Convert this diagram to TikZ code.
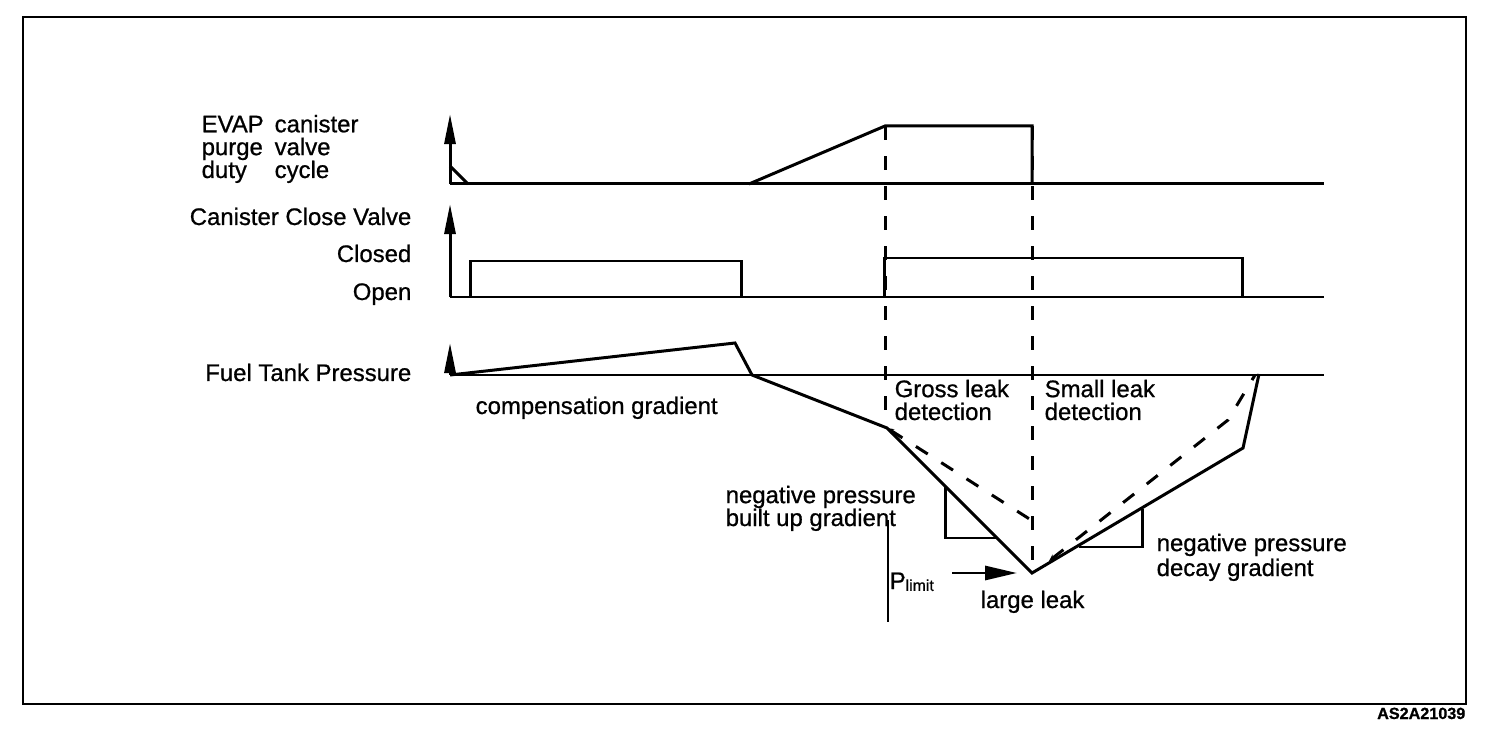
\documentclass[tikz,border=0pt]{standalone}
\usepackage{fontspec}
\setmainfont{Liberation Sans}[FakeBold=0.8]
\usetikzlibrary{arrows.meta}

\tikzset{
  curve/.style={line width=0.85pt},
  axis/.style={line width=0.85pt, -{Triangle[length=0.3cm,width=0.11cm]}},
  guide/.style={line width=0.85pt, dash pattern=on 0.14cm off 0.16cm},
  lbl/.style={inner sep=0pt, align=left, font={\fontsize{6.8pt}{6.5pt}\selectfont}},
}

\begin{document}
\begin{tikzpicture}[x=0.01cm, y=-0.01cm]
\useasboundingbox (0,0) rectangle (1504,734);
\draw[line width=0.7pt] (23,17) rectangle (1466,704);
\node[lbl, anchor=base east, font={\fontsize{4.6pt}{5pt}\selectfont\bfseries}] (id) at (1466,719) {AS2A21039};

%% EVAP purge duty cycle
\coordinate (O1) at (450,184);
\coordinate (R0) at (749,184);
\coordinate (R1) at (885,126);
\coordinate (R2) at (1032,126);
\draw[axis] (O1) -- (450,114);
\draw[curve] (O1) -- (1324,184);
\draw[curve] (450,166) -- (468,184);
\draw[curve] (R0) -- (R1) -- (R2) -- (1032,184);

%% canister close valve
\coordinate (O2) at (450,297);
\draw[axis] (O2) -- (450,204);
\draw[curve] (O2) -- (1324,297);
\draw[curve] (470,297) -- (470,261) -- (741,261) -- (741,297);
\draw[curve] (884,297) -- (884,258) -- (1242,258) -- (1242,297);

%% fuel tank pressure
\coordinate (O3) at (450,375);
\coordinate (C) at (735,343);
\coordinate (S) at (752,375);
\coordinate (K) at (887,428);
\coordinate (L) at (1032,573);
\coordinate (D) at (1243,448);
\coordinate (E) at (1259,374);
\draw[axis] (O3) -- (450,343);
\draw[curve] (O3) -- (1324,375);
\draw[curve] (O3) -- (C) -- (S) -- (K) -- (L) -- (D) -- (E);

%% dashed guides
\draw[guide] (R1) -- (885,426);
\draw[guide] (R2) -- (1032,566);
\draw[guide, {Stealth[length=0.07cm,width=0.06cm]}-] (K) -- (1031,520);
\draw[guide, {Stealth[length=0.07cm,width=0.06cm]}-] (1049,561) -- (1228,420) -- (1255,375);

%% gradient corners
\draw[curve] (945,487) -- (945,538) -- (997,538);
\draw[curve] (1142,509) -- (1142,547) -- (1079,547);

%% P limit
\coordinate (PA) at (952,573);
\coordinate (PB) at (1017,573);
\draw[line width=0.45pt] (888,520) -- (888,622);
\draw[line width=0.85pt, -{Triangle[length=0.32cm,width=0.14cm]}] (PA) -- (PB);
\node[lbl, anchor=base west] (plim) at (889,589) {P\raisebox{-0.15ex}{\fontsize{4.5pt}{5pt}\selectfont limit}};

%% labels
\node[lbl, anchor=base west] (evap) at (201,178) {EVAP\\purge\\duty};
\node[lbl, anchor=base west] (canister) at (274,178) {canister\\valve\\cycle};
\node[lbl, anchor=base east] (ccv) at (412,225) {Canister Close Valve};
\node[lbl, anchor=base east] (closed) at (412,262) {Closed};
\node[lbl, anchor=base east] (open) at (412,300) {Open};
\node[lbl, anchor=base east] (ftp) at (412,381) {Fuel Tank Pressure};
\node[lbl, anchor=base west] (comp) at (475,414) {compensation gradient};
\node[lbl, anchor=base west] (gross) at (894,420) {Gross leak\\detection};
\node[lbl, anchor=base west] (small) at (1044,420) {Small leak\\detection};
\node[lbl, anchor=base west] (npb) at (725,526) {negative pressure\\built up gradient};
\node[lbl, anchor=base west] (large) at (980,608) {large leak};
\node[lbl, anchor=base west] (npd) at (1156,576) {negative pressure\\[0.02cm]decay gradient};
\end{tikzpicture}
\end{document}
